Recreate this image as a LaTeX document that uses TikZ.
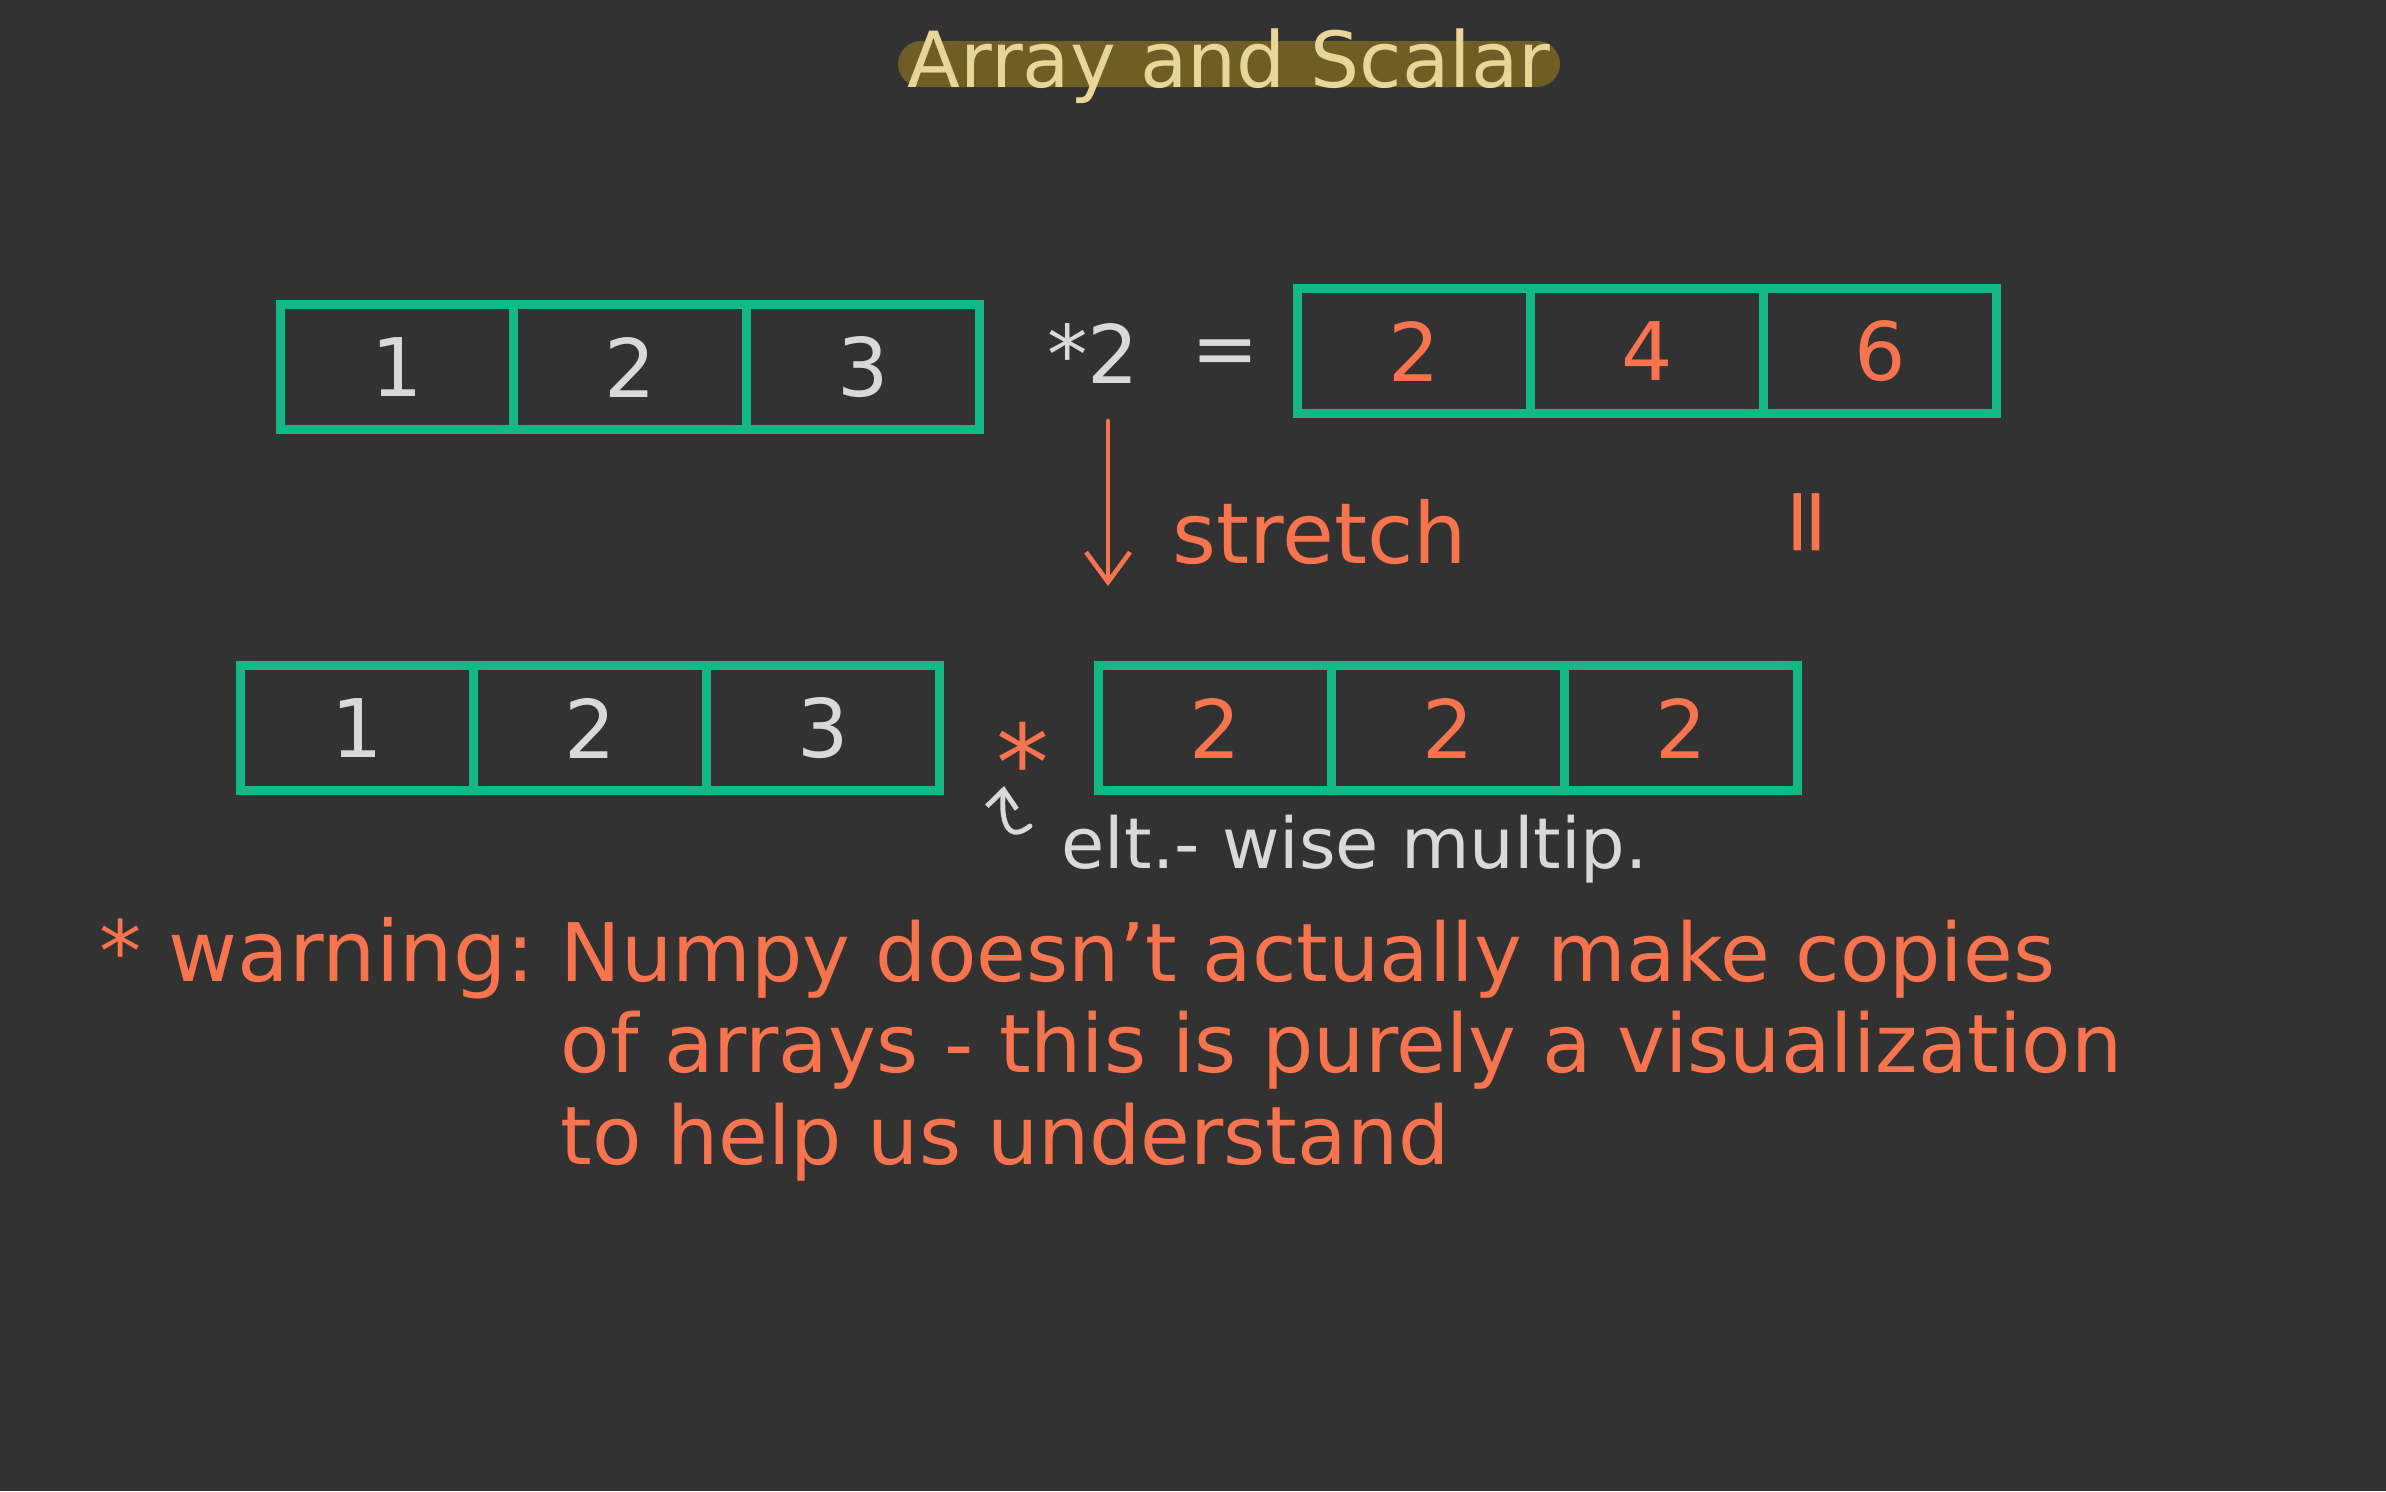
\documentclass[tikz,border=0pt]{standalone}
\usepackage{fontspec}
\setmainfont{DejaVu Sans}
\usetikzlibrary{positioning, arrows.meta}
\definecolor{board}{HTML}{323232}
\definecolor{mint}{HTML}{12B886}
\definecolor{coral}{HTML}{F7744F}
\definecolor{chalk}{HTML}{D9D9D9}
\definecolor{parchment}{HTML}{E8D598}
\definecolor{ochre}{HTML}{6E5D24}
\tikzset{
  cell/.style     ={draw=mint, line width=2.8pt, minimum width=23.3mm,
                    minimum height=12.5mm, outer sep=0pt, inner sep=0pt,
                    font=\fontsize{23}{27}\selectfont},
  ink/.style      ={text=chalk, inner sep=0pt},
  hot/.style      ={text=coral, inner sep=0pt},
  titlebar/.style ={fill=ochre, rounded corners=2.3mm, inner sep=0pt,
                    minimum width=66.2mm, minimum height=4.6mm},
  heading/.style  ={text=parchment, inner sep=0pt,
                    font=\fontsize{22}{26}\selectfont},
  stretchline/.style={-{Straight Barb[length=3mm, width=4.4mm]}, coral,
                    line width=1.3pt, line cap=round},
  hookline/.style ={-{Straight Barb[length=1.8mm, width=3mm]}, chalk,
                    line width=1.4pt, line cap=round},
}

\begin{document}
\begin{tikzpicture}[x=0.1mm, y=-0.1mm]
\useasboundingbox (0,0) rectangle (2386,1491);
\fill[board] (0,0) rectangle (2386,1491);

% title
\node[titlebar] (bar) at (1229,64) {};
\node[heading, anchor=base] (title) at (1229,87) {Array and Scalar};

% the four arrays
\foreach \arr/\xx/\yy/\clr/\va/\vb/\vc in {A/397/367/chalk/1/2/3,
                                           B/1414/351/coral/2/4/6,
                                           C/357/728/chalk/1/2/3,
                                           D/1215/728/coral/2/2/2} {
  \node[cell, text=\clr] (\arr1) at (\xx,\yy) {\va};
  \node[cell, text=\clr, right=0pt of \arr1] (\arr2) {\vb};
  \node[cell, text=\clr, right=0pt of \arr2] (\arr3) {\vc};
}

% top row
\node[ink, font=\fontsize{23}{27}\selectfont, anchor=base] (times) at (1093,383) {*2};
\node[ink, font=\fontsize{23}{27}\selectfont] (eq) at (1225,358) {=};
\node[hot, font=\fontsize{26}{30}\selectfont, rotate=90] (same) at (1815,522) {=};

% stretch
\coordinate (stretchTop) at (1108,421);
\coordinate (stretchEnd) at (1108,586);
\draw[stretchline] (stretchTop) -- (stretchEnd);
\node[hot, font=\fontsize{24}{28}\selectfont, anchor=base west] (stretch)
  at (1172,563) {stretch};

% bottom row
\node[hot, font=\fontsize{30}{34}\selectfont, anchor=base] (star) at (1023,800) {*};
\coordinate (hookTail) at (1030,826);
\coordinate (hookTip) at (1004,786);
\draw[hookline] (hookTail) .. controls (1010,842) and (1000,826) .. (hookTip);
\node[ink, font=\fontsize{20}{24}\selectfont, anchor=base west] (elt)
  at (1061,868) {elt.- wise multip.};

% warning
\node[hot, font=\fontsize{24}{28}\selectfont, anchor=base west] (warn)
  at (99,981) {* warning:};
\node[hot, font=\fontsize{23}{26}\selectfont, align=left, anchor=base west] (note)
  at (560,1164) {Numpy doesn't actually make copies\\
                 of arrays - this is purely a visualization\\
                 to help us understand};

\end{tikzpicture}
\end{document}
